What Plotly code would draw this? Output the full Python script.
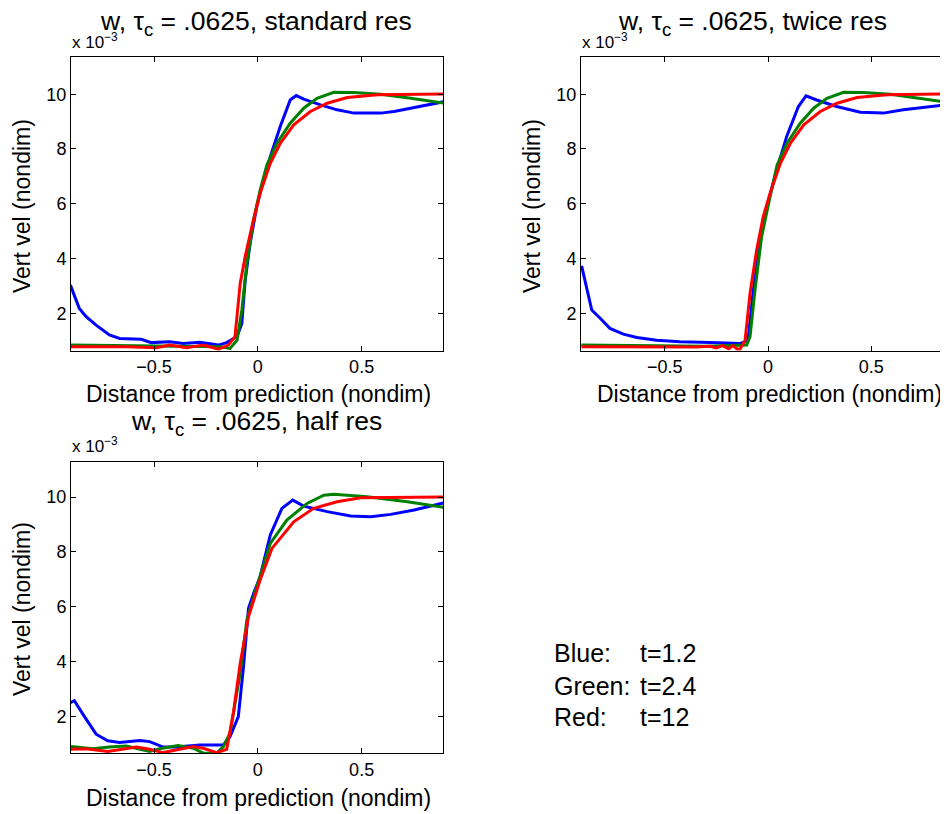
import plotly.graph_objects as go

# ---------------- data (values in units of 1e-3) ----------------
# standard res (top-left)
std_blue_x = [-0.903, -0.86, -0.827, -0.779, -0.715, -0.666, -0.561, -0.513, -0.424, -0.36, -0.279, -0.239, -0.19, -0.15, -0.126, -0.10, -0.077, -0.061, -0.037, -0.005, 0.027, 0.06, 0.108, 0.156, 0.185, 0.221, 0.302, 0.382, 0.463, 0.592, 0.656, 0.737, 0.818, 0.898]
std_blue_y = [3.03, 2.18, 1.88, 1.57, 1.21, 1.08, 1.05, 0.93, 0.96, 0.90, 0.94, 0.90, 0.84, 0.93, 1.05, 1.15, 1.63, 3.2, 4.56, 5.9, 6.87, 7.72, 8.82, 9.79, 9.95, 9.82, 9.61, 9.43, 9.31, 9.31, 9.37, 9.49, 9.61, 9.73]
std_green_x = [-0.903, -0.6, -0.3, -0.18, -0.134, -0.10, -0.077, -0.053, -0.021, 0.011, 0.044, 0.092, 0.156, 0.221, 0.285, 0.366, 0.463, 0.592, 0.737, 0.898]
std_green_y = [0.84, 0.82, 0.80, 0.78, 0.72, 1.02, 2.12, 3.82, 5.41, 6.50, 7.42, 8.21, 8.94, 9.49, 9.85, 10.07, 10.06, 10.0, 9.85, 9.67]
std_red_x = [-0.903, -0.634, -0.489, -0.424, -0.344, -0.263, -0.19, -0.142, -0.11, -0.085, -0.061, -0.029, 0.011, 0.06, 0.108, 0.173, 0.253, 0.334, 0.431, 0.576, 0.898]
std_red_y = [0.78, 0.78, 0.74, 0.84, 0.74, 0.84, 0.69, 0.84, 1.15, 3.09, 4.07, 5.16, 6.38, 7.48, 8.21, 8.88, 9.37, 9.67, 9.88, 9.98, 10.01]

# twice res (top-right)
tw_blue_x = [-0.902, -0.877, -0.853, -0.811, -0.765, -0.70, -0.635, -0.539, -0.426, -0.28, -0.135, -0.111, -0.095, -0.071, -0.039, -0.006, 0.042, 0.09, 0.147, 0.184, 0.235, 0.332, 0.447, 0.558, 0.655, 0.874, 0.9]
tw_blue_y = [3.73, 2.85, 2.12, 1.81, 1.45, 1.24, 1.12, 1.02, 0.96, 0.93, 0.90, 0.96, 1.15, 2.85, 4.56, 5.9, 7.24, 8.45, 9.55, 9.94, 9.79, 9.55, 9.34, 9.31, 9.43, 9.63, 9.66]
tw_green_x = [-0.903, -0.6, -0.3, -0.103, -0.087, -0.063, -0.031, 0.01, 0.044, 0.092, 0.156, 0.221, 0.285, 0.366, 0.463, 0.592, 0.737, 0.898]
tw_green_y = [0.84, 0.82, 0.80, 0.84, 1.15, 2.85, 4.80, 6.26, 7.42, 8.21, 8.94, 9.49, 9.85, 10.07, 10.06, 10.0, 9.85, 9.67]
tw_red_x = [-0.903, -0.6, -0.35, -0.28, -0.25, -0.22, -0.19, -0.17, -0.15, -0.135, -0.111, -0.087, -0.055, -0.023, 0.01, 0.06, 0.108, 0.173, 0.253, 0.334, 0.431, 0.576, 0.898]
tw_red_y = [0.78, 0.78, 0.77, 0.80, 0.74, 0.82, 0.71, 0.82, 0.70, 0.70, 1.02, 2.73, 4.31, 5.53, 6.38, 7.48, 8.21, 8.88, 9.37, 9.67, 9.88, 9.98, 10.01]

# half res (bottom-left)
hf_blue_x = [-0.903, -0.884, -0.835, -0.779, -0.723, -0.666, -0.569, -0.521, -0.456, -0.392, -0.279, -0.166, -0.134, -0.094, -0.069, -0.045, -0.02, 0.011, 0.06, 0.116, 0.168, 0.221, 0.334, 0.447, 0.544, 0.64, 0.753, 0.898]
hf_blue_y = [2.51, 2.58, 2.0, 1.36, 1.12, 1.06, 1.13, 1.09, 0.89, 0.89, 0.97, 0.97, 1.27, 2.0, 3.82, 5.95, 6.5, 7.1, 8.62, 9.59, 9.89, 9.67, 9.47, 9.31, 9.28, 9.37, 9.53, 9.79]
hf_green_x = [-0.903, -0.795, -0.715, -0.634, -0.521, -0.473, -0.384, -0.311, -0.263, -0.198, -0.166, -0.134, -0.085, -0.053, -0.005, 0.06, 0.14, 0.237, 0.318, 0.366, 0.527, 0.721, 0.898]
hf_green_y = [0.91, 0.83, 0.89, 0.93, 0.73, 0.83, 0.95, 0.85, 0.67, 0.67, 0.91, 1.40, 3.58, 5.52, 6.74, 8.31, 9.16, 9.77, 10.07, 10.1, 10.01, 9.83, 9.62]
hf_red_x = [-0.903, -0.827, -0.723, -0.585, -0.521, -0.456, -0.311, -0.263, -0.198, -0.15, -0.118, -0.085, -0.045, 0.011, 0.068, 0.173, 0.269, 0.382, 0.495, 0.898]
hf_red_y = [0.81, 0.83, 0.73, 0.89, 0.81, 0.69, 0.91, 0.85, 0.69, 0.81, 2.12, 3.94, 5.64, 6.98, 8.13, 9.10, 9.59, 9.83, 9.98, 10.0]

x_tick_vals = [-0.5, 0, 0.5]
x_tick_text = ["\u22120.5", "0", "0.5"]
y_tick_vals = [2, 4, 6, 8, 10]
y_tick_text = ["2", "4", "6", "8", "10"]

titles = ["w, \u03c4<sub>c</sub> = .0625, standard res",
          "w, \u03c4<sub>c</sub> = .0625, twice res",
          "w, \u03c4<sub>c</sub> = .0625, half res"]
x_title = "Distance from prediction (nondim)"
y_title = "Vert vel (nondim)"
scale_label = "x 10<sup>\u22123</sup>"
legend_names = ["Blue:", "Green:", "Red:"]
legend_times = ["t=1.2", "t=2.4", "t=12"]

# ---------------- layout helpers ----------------
W, H = 948, 814
OFF = 8  # page body margin: figure sits 8px in from the window's top-left
FONT = "Liberation Sans, Arial, Helvetica, sans-serif"
BLUE, GREEN, RED = "#0000ff", "#008000", "#ff0000"


def px(x):
    return (x - OFF) / W


def py(y):
    return 1 - (y - OFF) / H


fig = go.Figure()

panels = [
    (std_blue_x, std_blue_y, std_green_x, std_green_y, std_red_x, std_red_y, "x", "y"),
    (tw_blue_x, tw_blue_y, tw_green_x, tw_green_y, tw_red_x, tw_red_y, "x2", "y2"),
    (hf_blue_x, hf_blue_y, hf_green_x, hf_green_y, hf_red_x, hf_red_y, "x3", "y3"),
]
for bx, by, gx, gy, rx, ry, xa, ya in panels:
    for xs, ys, col in ((bx, by, BLUE), (gx, gy, GREEN), (rx, ry, RED)):
        fig.add_trace(go.Scatter(x=xs, y=ys, mode="lines", xaxis=xa, yaxis=ya,
                                 line=dict(color=col, width=3), showlegend=False,
                                 hoverinfo="skip"))

axis_common = dict(showline=True, linecolor="black", linewidth=1, ticks="inside",
                   ticklen=5, tickcolor="black", showgrid=False, zeroline=False,
                   tickfont=dict(family=FONT, size=18, color="black"))

doms = {
    "tl": ([px(71), px(443)], [py(350.7), py(56.7)]),
    "tr": ([px(581), px(948)], [py(350.7), py(56.7)]),
    "bl": ([px(71), px(443)], [py(753.3), py(461.7)]),
}

fig.update_layout(
    width=W, height=H, margin=dict(l=0, r=0, t=0, b=0),
    paper_bgcolor="white", plot_bgcolor="white", showlegend=False,
    xaxis=dict(domain=doms["tl"][0], range=[-0.9, 0.892], anchor="y", mirror="ticks",
               tickvals=x_tick_vals, ticktext=x_tick_text, **axis_common),
    yaxis=dict(domain=doms["tl"][1], range=[0.635, 11.37], anchor="x", mirror="ticks",
               tickvals=y_tick_vals, ticktext=y_tick_text, **axis_common),
    xaxis2=dict(domain=doms["tr"][0], range=[-0.905, 0.871], anchor="y2", mirror="ticks",
                tickvals=x_tick_vals, ticktext=x_tick_text, **axis_common),
    yaxis2=dict(domain=doms["tr"][1], range=[0.635, 11.37], anchor="x2", mirror=False,
                tickvals=y_tick_vals, ticktext=y_tick_text, **axis_common),
    xaxis3=dict(domain=doms["bl"][0], range=[-0.9, 0.892], anchor="y3", mirror="ticks",
                tickvals=x_tick_vals, ticktext=x_tick_text, **axis_common),
    yaxis3=dict(domain=doms["bl"][1], range=[0.664, 11.29], anchor="x3", mirror="ticks",
                tickvals=y_tick_vals, ticktext=y_tick_text, **axis_common),
)

ann = []


def text(x, y, s, size, xanchor="center", yanchor="middle", angle=0):
    ann.append(dict(x=px(x), y=py(y), xref="paper", yref="paper", text=s, showarrow=False,
                    xanchor=xanchor, yanchor=yanchor, textangle=angle,
                    font=dict(family=FONT, size=size, color="black")))


# titles
text(256, 23, titles[0], 26.5)
text(752, 23, titles[1], 26.5)
text(256, 423, titles[2], 26.5)
# x 10^-3 labels
text(70, 41, scale_label, 17, xanchor="left")
text(580, 41, scale_label, 17, xanchor="left")
text(70, 445, scale_label, 17, xanchor="left")
# x axis titles
text(258, 394, x_title, 23)
text(769, 394, x_title, 23)
text(258, 798, x_title, 23)
# y axis titles
text(22, 206, y_title, 23, angle=-90)
text(532, 206, y_title, 23, angle=-90)
text(22, 609, y_title, 23, angle=-90)
# legend text
for i, yy in enumerate([653, 686, 717]):
    text(552, yy, legend_names[i], 25, xanchor="left")
    text(638, yy, legend_times[i], 25, xanchor="left")

fig.update_layout(annotations=ann)
fig.write_html("out.html")
